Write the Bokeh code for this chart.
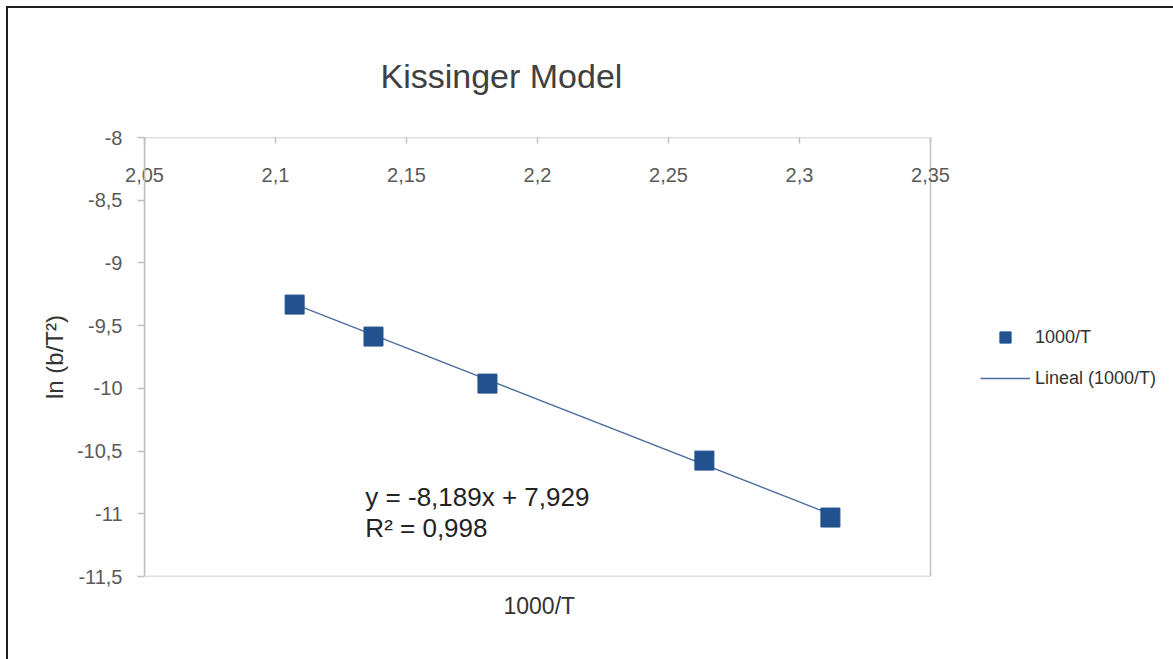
from bokeh.plotting import figure
from bokeh.models import (FixedTicker, CustomJSTickFormatter, Label, Title,
                          Legend, LegendItem, Range1d)
from bokeh.embed import file_html
from bokeh.resources import INLINE

# Kissinger data: inverse peak temperature vs ln(heating rate / T^2)
inv_T = [2.1073, 2.1374, 2.1809, 2.2637, 2.3118]
ln_bT2 = [-9.332, -9.587, -9.962, -10.576, -11.030]

# linear trend line reported on the chart
slope = -8.189
intercept = 7.929
r_squared = 0.998

x_ticks = [2.05, 2.10, 2.15, 2.20, 2.25, 2.30, 2.35]
y_ticks = [-8.0, -8.5, -9.0, -9.5, -10.0, -10.5, -11.0, -11.5]
X_MIN, X_MAX = 2.05, 2.35
Y_MIN, Y_MAX = -11.5, -8.0

FONT = "Liberation Sans"
AXIS_GRAY = "#c4bfba"
TICK_TEXT = "#5a5a5a"
MARKER_BLUE = "#21528f"
TREND_BLUE = "#4b6c9f"

W, H = 1165, 651
LEFT, TOP = 136, 129
PLOT_W, FRAME_H = 786, 439          # width of the boxed plotting area
FRAME_W = W - LEFT                  # frame also hosts the legend on the right
x_end = X_MAX + (FRAME_W - PLOT_W) * (X_MAX - X_MIN) / PLOT_W

p = figure(frame_width=FRAME_W, frame_height=FRAME_H,
           output_backend="svg", toolbar_location=None,
           x_axis_location="above",
           x_range=Range1d(X_MIN, x_end), y_range=Range1d(Y_MIN, Y_MAX),
           min_border_left=LEFT, min_border_top=TOP,
           min_border_right=0, min_border_bottom=H - TOP - FRAME_H)
p.styles = {"margin-left": "6px", "margin-top": "6px",
            "border-left": "2px solid #1e1e1e", "border-top": "2px solid #1e1e1e"}
p.grid.visible = False
p.outline_line_color = None
p.background_fill_color = "white"
p.border_fill_color = "white"

# light box around the plotting area
p.quad(left=X_MIN, right=X_MAX, bottom=Y_MIN, top=Y_MAX,
       fill_color=None, line_color=AXIS_GRAY, line_width=1.5)

fmt_code = """
let s = tick.toFixed(2).replace(/0+$/, '').replace(/\\.$/, '');
return s.replace('.', ',');
"""

# x axis sits on the top edge with its labels hanging inside the box
xa = p.xaxis[0]
xa.ticker = FixedTicker(ticks=x_ticks)
xa.formatter = CustomJSTickFormatter(code=fmt_code)
xa.axis_line_color = None
xa.major_tick_line_color = AXIS_GRAY
xa.major_tick_line_width = 1.5
xa.major_tick_in = 6
xa.major_tick_out = 0
xa.minor_tick_line_color = None
xa.major_label_standoff = -44
xa.major_label_text_font = FONT
xa.major_label_text_font_size = "20px"
xa.major_label_text_color = TICK_TEXT

ya = p.yaxis[0]
ya.ticker = FixedTicker(ticks=y_ticks)
ya.formatter = CustomJSTickFormatter(code=fmt_code)
ya.axis_line_color = AXIS_GRAY
ya.axis_line_width = 1.5
ya.major_tick_line_color = AXIS_GRAY
ya.major_tick_line_width = 1.5
ya.major_tick_in = 0
ya.major_tick_out = 7
ya.minor_tick_line_color = None
ya.major_label_standoff = 15
ya.major_label_text_font = FONT
ya.major_label_text_font_size = "20px"
ya.major_label_text_color = TICK_TEXT
ya.axis_label = "ln (b/T²)"
ya.axis_label_standoff = 6
ya.axis_label_text_font = FONT
ya.axis_label_text_font_size = "24px"
ya.axis_label_text_font_style = "normal"
ya.axis_label_text_color = "#333333"

p.title.text = "Kissinger Model"
p.title.align = "left"
p.title.offset = 236
p.title.standoff = 86
p.title.text_font = FONT
p.title.text_font_size = "34px"
p.title.text_font_style = "normal"
p.title.text_color = "#404040"

# x axis title below the box
p.add_layout(Title(text="1000/T", align="left", offset=359, standoff=28,
                   text_font=FONT, text_font_size="23px",
                   text_font_style="normal", text_color="#333333"), "below")

# trend line from the fitted equation, spanning the measured range
x_fit = [min(inv_T), max(inv_T)]
y_fit = [slope * xv + intercept for xv in x_fit]
trend = p.line(x_fit, y_fit, line_color=TREND_BLUE, line_width=1.3)
pts = p.scatter(inv_T, ln_bT2, marker="square", size=19,
                fill_color=MARKER_BLUE, line_color=MARKER_BLUE)

legend = Legend(items=[LegendItem(label="1000/T", renderers=[pts]),
                       LegendItem(label="Lineal (1000/T)", renderers=[trend])],
                location=(836, 184), orientation="vertical",
                glyph_width=50, glyph_height=28, label_height=20, spacing=13,
                label_standoff=5, padding=10, margin=0,
                border_line_color=None, background_fill_alpha=0,
                label_text_font=FONT, label_text_font_size="18px",
                label_text_color="#333333")
p.add_layout(legend, "center")

eq = f"y = {slope:.3f}x + {intercept:.3f}".replace(".", ",")
r2 = f"R² = {r_squared:.3f}".replace(".", ",")
p.add_layout(Label(x=2.1343, y=-10.87, text=eq, text_font=FONT,
                   text_font_size="26px", text_color="#222222",
                   text_baseline="middle"))
p.add_layout(Label(x=2.1343, y=-11.115, text=r2, text_font=FONT,
                   text_font_size="26px", text_color="#222222",
                   text_baseline="middle"))

open("out.html", "w").write(file_html(p, INLINE))
